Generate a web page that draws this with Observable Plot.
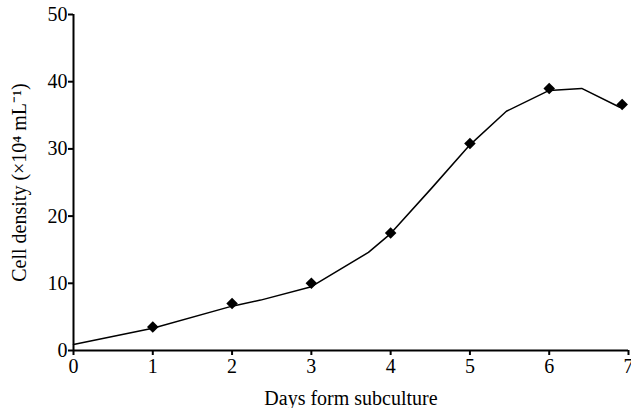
<!DOCTYPE html>
<html>
<head>
<meta charset="utf-8">
<script src="https://cdn.jsdelivr.net/npm/d3@7"></script>
<script src="https://cdn.jsdelivr.net/npm/@observablehq/plot@0.6"></script>
<style>
  html, body { margin: 0; padding: 0; background: #fff; }
  svg { display: block; }
</style>
</head>
<body>
<div id="chart"></div>
<script>
// Measured points (markers)
const days = [1, 2, 3, 4, 5, 6, 6.92];
const density = [3.5, 7.0, 10.0, 17.5, 30.8, 39.0, 36.6];

// Fitted curve vertices
const curveDays = [0, 1, 2, 2.36, 3, 3.72, 4, 4.52, 5, 5.46, 6, 6.41, 6.89];
const curveDensity = [0.9, 3.3, 6.6, 7.5, 9.5, 14.6, 17.4, 24.2, 30.6, 35.6, 38.7, 39.0, 36.2];

const xTicks = [0, 1, 2, 3, 4, 5, 6, 7];
const yTicks = [0, 10, 20, 30, 40, 50];

const points = days.map((d, i) => ({day: d, value: density[i]}));
const curve = curveDays.map((d, i) => ({day: d, value: curveDensity[i]}));

const chart = Plot.plot({
  width: 631,
  height: 408,
  marginLeft: 73,
  marginRight: 3,
  marginTop: 14,
  marginBottom: 58,
  style: {fontFamily: "'Liberation Serif', 'Times New Roman', serif", fontSize: "20px", color: "#000", background: "#fff"},
  x: {domain: [0, 7]},
  y: {domain: [0, 50]},
  marks: [
    Plot.axisX({ticks: xTicks, tickSize: 5, tickPadding: 3, tickFormat: d => String(d), fontSize: 20, strokeWidth: 2,
      label: "Days form subculture", labelAnchor: "center", labelArrow: "none", labelOffset: 54}),
    Plot.axisY({ticks: yTicks, tickSize: 5, tickPadding: 1, tickFormat: d => String(d), fontSize: 20, strokeWidth: 2,
      label: "Cell density (×10⁴ mL⁻¹)", labelAnchor: "center", labelArrow: "none", labelOffset: 62}),
    Plot.ruleY([0], {stroke: "#000", strokeWidth: 2}),
    Plot.ruleX([0], {stroke: "#000", strokeWidth: 2}),
    Plot.line(curve, {x: "day", y: "value", stroke: "#000", strokeWidth: 1.5}),
    Plot.dot(points, {x: "day", y: "value", symbol: "diamond2", r: 5.2, fill: "#000", stroke: "none"})
  ]
});
document.getElementById("chart").appendChild(chart);
</script>
</body>
</html>
